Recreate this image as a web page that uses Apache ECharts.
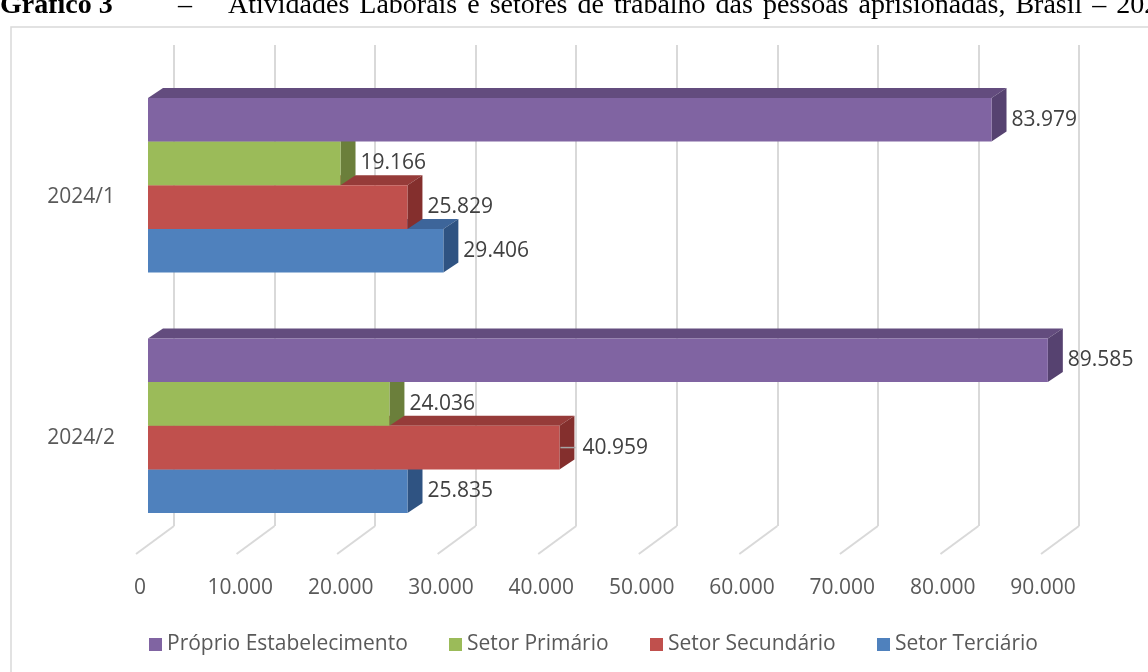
<!DOCTYPE html>
<html>
<head>
<meta charset="utf-8">
<script src="https://cdn.jsdelivr.net/npm/echarts@6/dist/echarts.min.js"></script>
<style>
  html, body { margin: 0; padding: 0; background: #fff; }
  #grafico { width: 1148px; height: 672px; }
</style>
</head>
<body>
<div id="grafico"></div>
<script>
// dados do gráfico
const categorias = ["2024/1", "2024/2"];
const setores = ["Próprio Estabelecimento", "Setor Primário", "Setor Secundário", "Setor Terciário"];
const proprio = [83979, 89585];
const primario = [19166, 24036];
const secundario = [25829, 40959];
const terciario = [29406, 25835];
const ticks = [0, 10000, 20000, 30000, 40000, 50000, 60000, 70000, 80000, 90000];

// cores: frente, topo, lateral
const cores = [
  { frente: "#8064A2", topo: "#634C7E", lado: "#564270" },
  { frente: "#9BBB59", topo: "#7A9443", lado: "#6B7F3B" },
  { frente: "#C0504D", topo: "#963B39", lado: "#842F2D" },
  { frente: "#4F81BD", topo: "#3D659A", lado: "#2F5382" },
];
const valores = [proprio, primario, secundario, terciario];
const fonte = "'Open Sans', sans-serif";
const serif = "'Liberation Serif', 'Times New Roman', serif";

function fmt(v) {
  return String(v).replace(/\B(?=(\d{3})+(?!\d))/g, ".");
}

// profundidade da barra (efeito 3d)
const dx = 15, dy = -10;

function barra(s) {
  return function (params, api) {
    const cat = api.value(1);
    const val = api.value(0);
    const base = api.coord([0, cat]);
    const fim = api.coord([val, cat]);
    const banda = api.size([0, 1])[1];
    const t = banda * 0.1815;
    const y0 = base[1] - 2 * t + s * t;
    const x0 = base[0], x1 = fim[0];
    const c = cores[s];
    const filhos = [
      {
        type: "polygon",
        shape: { points: [[x0, y0], [x0 + dx, y0 + dy], [x1 + dx, y0 + dy], [x1, y0]] },
        style: { fill: c.topo },
      },
      {
        type: "polygon",
        shape: { points: [[x1, y0], [x1 + dx, y0 + dy], [x1 + dx, y0 + dy + t], [x1, y0 + t]] },
        style: { fill: c.lado },
      },
      {
        type: "rect",
        shape: { x: x0, y: y0, width: x1 - x0, height: t },
        style: { fill: c.frente },
      },
    ];
    let lx = x1 + dx + 5;
    // rótulo com linha guia (Setor Secundário 2024/2)
    if (s === 2 && cat === 1) {
      filhos.push({
        type: "line",
        shape: { x1: x1 + 1, y1: y0 + t / 2, x2: x1 + dx + 1, y2: y0 + t / 2 },
        style: { stroke: "#a6a6a6", lineWidth: 1.5 },
      });
      lx = x1 + dx + 8;
    }
    filhos.push({
      type: "text",
      x: lx,
      y: y0 + t / 2,
      z2: 10,
      style: {
        text: fmt(val),
        fill: "#404040",
        font: "21px " + fonte,
        verticalAlign: "middle",
        align: "left",
      },
    });
    return { type: "group", children: filhos };
  };
}

// linhas do piso
function piso(params, api) {
  const p = api.coord([api.value(0), 0]);
  const yb = params.coordSys.y + params.coordSys.height;
  return {
    type: "line",
    shape: { x1: p[0], y1: yb, x2: p[0] - 38, y2: yb + 28 },
    style: { stroke: "#d9d9d9", lineWidth: 2 },
  };
}

const series = setores.map((nome, s) => ({
  name: nome,
  type: "custom",
  xAxisIndex: 0,
  yAxisIndex: 0,
  z: 10 - s,
  itemStyle: { color: cores[s].frente },
  renderItem: barra(s),
  encode: { x: 0, y: 1 },
  data: valores[s].map((v, i) => [v, i]),
}));
series.push({
  type: "custom",
  xAxisIndex: 1,
  yAxisIndex: 1,
  z: 1,
  silent: true,
  renderItem: piso,
  data: ticks.map((v) => [v, 0]),
});

const legendas = setores.map((nome, i) => ({
  data: [nome],
  left: [149, 449, 650, 877][i],
  top: 634,
  padding: 0,
  icon: "rect",
  itemWidth: 13,
  itemHeight: 13,
  textStyle: { color: "#595959", fontSize: 21, fontFamily: fonte },
}));

// título (texto justificado, cortado no topo como no original)
const tituloY = 6;
const fonteTitulo = "28px " + serif;
const titulo = [
  { type: "rect", shape: { x: 11, y: 27, width: 1200, height: 700 },
    style: { fill: "none", stroke: "#d9d9d9", lineWidth: 1.5 }, z: -1 },
  { type: "text", x: 0, y: tituloY,
    style: { text: "Gráfico 3", font: "bold " + fonteTitulo, fill: "#000", verticalAlign: "middle" } },
  { type: "text", x: 178, y: tituloY,
    style: { text: "–", font: fonteTitulo, fill: "#000", verticalAlign: "middle" } },
];
const ctx = document.createElement("canvas").getContext("2d");
ctx.font = fonteTitulo;
const espaco = ctx.measureText(" ").width + 3;
let xp = 228;
"Atividades Laborais e setores de trabalho das pessoas aprisionadas, Brasil – 2024".split(" ").forEach((w) => {
  titulo.push({ type: "text", x: xp, y: tituloY,
    style: { text: w, font: fonteTitulo, fill: "#000", verticalAlign: "middle" } });
  xp += ctx.measureText(w).width + espaco;
});

const chart = echarts.init(document.getElementById("grafico"));
const option = {
  animation: false,
  backgroundColor: "#fff",
  textStyle: { fontFamily: fonte },
  graphic: titulo,
  legend: legendas,
  grid: [
    { left: 148, width: 904, top: 65, height: 481 },
    { left: 174, width: 905, top: 45, height: 481 },
    { left: 140, width: 903, top: 560, height: 4 },
  ],
  xAxis: [
    { gridIndex: 0, type: "value", min: 0, max: 90000, interval: 10000, show: false },
    {
      gridIndex: 1, type: "value", min: 0, max: 90000, interval: 10000,
      axisLine: { show: false }, axisTick: { show: false }, axisLabel: { show: false },
      splitLine: { show: true, lineStyle: { color: "#d9d9d9", width: 2 } },
    },
    {
      gridIndex: 2, type: "value", min: 0, max: 90000, interval: 10000,
      axisLine: { show: false }, axisTick: { show: false }, splitLine: { show: false },
      axisLabel: { margin: 14, color: "#595959", fontSize: 21, fontFamily: fonte, formatter: fmt },
    },
  ],
  yAxis: [
    {
      gridIndex: 0, type: "category", data: categorias, inverse: true,
      axisLine: { show: false }, axisTick: { show: false }, splitLine: { show: false },
      axisLabel: {
        margin: 33, color: "#595959", fontSize: 21, fontFamily: fonte,
        verticalAlign: "top", lineHeight: 24,
      },
    },
    { gridIndex: 1, type: "category", data: ["piso"], show: false },
    { gridIndex: 2, type: "category", data: ["r"], show: false },
  ],
  series: series,
};
chart.setOption(option);
</script>
</body>
</html>
